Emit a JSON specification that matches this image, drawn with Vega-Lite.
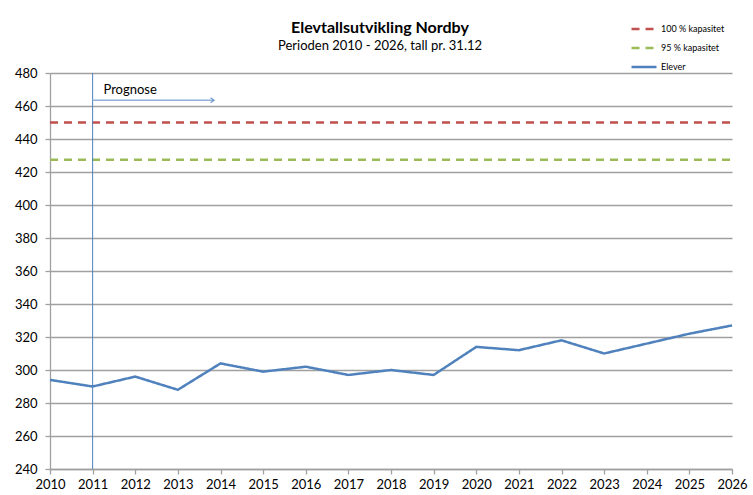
{
  "$schema": "https://vega.github.io/schema/vega-lite/v6.json",
  "width": 682,
  "height": 396,
  "autosize": "none",
  "padding": {"left": 50, "top": 73, "right": 21, "bottom": 26},
  "background": "white",
  "title": {
    "text": "Elevtallsutvikling Nordby",
    "subtitle": "Perioden 2010 - 2026, tall pr. 31.12",
    "anchor": "middle",
    "frame": "group",
    "dx": -11,
    "offset": -38,
    "font": "Lato",
    "fontSize": 16,
    "fontWeight": "bold",
    "color": "black",
    "subtitleFont": "Lato",
    "subtitleFontSize": 13,
    "subtitleColor": "black",
    "subtitlePadding": 4
  },
  "config": {
    "view": {"stroke": null},
    "axis": {
      "labelFont": "Lato",
      "labelFontSize": 13,
      "labelColor": "black",
      "labelOverlap": false,
      "domainColor": "#A0A0A0",
      "domainWidth": 1.3,
      "tickColor": "#A0A0A0",
      "tickWidth": 1.3,
      "gridColor": "#A0A0A0",
      "gridWidth": 1.3,
      "tickSize": 5,
      "title": null
    },
    "axisX": {"values": [2010,2011,2012,2013,2014,2015,2016,2017,2018,2019,2020,2021,2022,2023,2024,2025,2026], "format": "d", "grid": false, "labelPadding": 4, "labelFlush": false},
    "axisY": {"values": [240,260,280,300,320,340,360,380,400,420,440,460,480], "grid": true, "labelPadding": 8}
  },
  "datasets": {
    "series": [
      {"year": 2010, "value": 450, "series": "100 % kapasitet"},
      {"year": 2026, "value": 450, "series": "100 % kapasitet"},
      {"year": 2010, "value": 427.5, "series": "95 % kapasitet"},
      {"year": 2026, "value": 427.5, "series": "95 % kapasitet"},
      {"year": 2010, "value": 294, "series": "Elever"},
      {"year": 2011, "value": 290, "series": "Elever"},
      {"year": 2012, "value": 296, "series": "Elever"},
      {"year": 2013, "value": 288, "series": "Elever"},
      {"year": 2014, "value": 304, "series": "Elever"},
      {"year": 2015, "value": 299, "series": "Elever"},
      {"year": 2016, "value": 302, "series": "Elever"},
      {"year": 2017, "value": 297, "series": "Elever"},
      {"year": 2018, "value": 300, "series": "Elever"},
      {"year": 2019, "value": 297, "series": "Elever"},
      {"year": 2020, "value": 314, "series": "Elever"},
      {"year": 2021, "value": 312, "series": "Elever"},
      {"year": 2022, "value": 318, "series": "Elever"},
      {"year": 2023, "value": 310, "series": "Elever"},
      {"year": 2024, "value": 316, "series": "Elever"},
      {"year": 2025, "value": 322, "series": "Elever"},
      {"year": 2026, "value": 327, "series": "Elever"}
    ],
    "prognose": [
      {"start": 2011, "end": 2013.85, "value": 463.5, "label": "Prognose", "labelYear": 2011.88, "labelValue": 470}
    ]
  },
  "layer": [
    {
      "data": {"name": "series"},
      "mark": {"type": "line", "strokeWidth": 2.5},
      "encoding": {
        "x": {
          "field": "year",
          "type": "quantitative",
          "scale": {"domain": [2010, 2026], "nice": false, "zero": false}
        },
        "y": {
          "field": "value",
          "type": "quantitative",
          "scale": {"domain": [240, 480], "nice": false, "zero": false}
        },
        "color": {
          "field": "series",
          "type": "nominal",
          "scale": {"domain": ["100 % kapasitet", "95 % kapasitet", "Elever"], "range": ["#C0504D", "#9BBB59", "#4F81BD"]},
          "legend": {
            "title": null,
            "orient": "none",
            "legendX": 580,
            "legendY": -58,
            "padding": 0,
            "symbolType": "stroke",
            "symbolSize": 625,
            "symbolStrokeWidth": 2.5,
            "labelFont": "Lato",
            "labelFontSize": 9,
            "labelColor": "black",
            "rowPadding": -8.5,
            "labelOffset": 3
          }
        },
        "strokeDash": {
          "field": "series",
          "type": "nominal",
          "scale": {"domain": ["100 % kapasitet", "95 % kapasitet", "Elever"], "range": [[8, 6], [8, 6], [1, 0]]},
          "legend": null
        }
      }
    },
    {
      "data": {"name": "prognose"},
      "mark": {"type": "rule", "color": "#4F81BD", "strokeWidth": 1},
      "encoding": {"x": {"field": "start", "type": "quantitative"}}
    },
    {
      "data": {"name": "prognose"},
      "mark": {"type": "rule", "color": "#8EB0DB", "strokeWidth": 1.5},
      "encoding": {
        "x": {"field": "start", "type": "quantitative"},
        "x2": {"field": "end"},
        "y": {"field": "value", "type": "quantitative"}
      }
    },
    {
      "data": {"name": "prognose"},
      "mark": {"type": "point", "shape": "M-1,-0.7L0,0L-1,0.7", "filled": false, "size": 50, "stroke": "#6F99CF", "strokeWidth": 1.2, "opacity": 1},
      "encoding": {
        "x": {"field": "end", "type": "quantitative"},
        "y": {"field": "value", "type": "quantitative"}
      }
    },
    {
      "data": {"name": "prognose"},
      "mark": {"type": "text", "font": "Lato", "fontSize": 13, "color": "black", "align": "center", "baseline": "middle"},
      "encoding": {
        "x": {"field": "labelYear", "type": "quantitative"},
        "y": {"field": "labelValue", "type": "quantitative"},
        "text": {"field": "label"}
      }
    }
  ]
}
